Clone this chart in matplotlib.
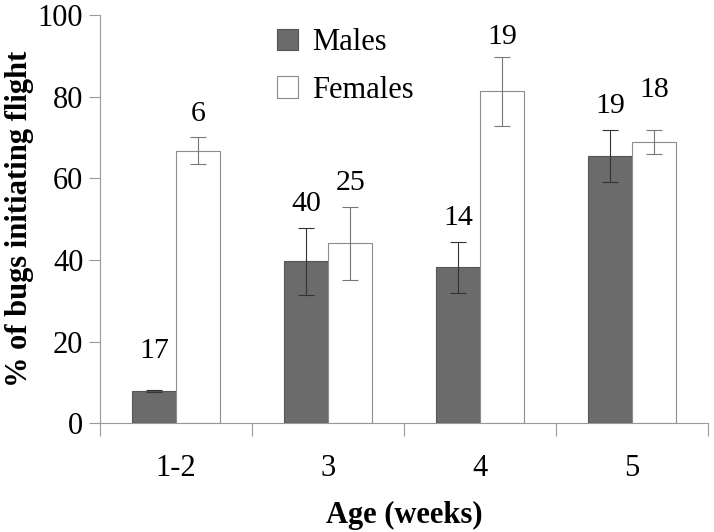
import numpy as np
import matplotlib
matplotlib.use('Agg')
import matplotlib.pyplot as plt

# values
ages = ['1-2', '3', '4', '5']
males = [7.9, 39.7, 38.2, 65.4]
males_err = [0.2, 8.2, 6.2, 6.4]
females = [66.8, 44.1, 81.3, 68.9]
females_err = [3.4, 8.9, 8.4, 3.0]
males_n = [17, 40, 14, 19]
females_n = [6, 25, 19, 18]

plt.rcParams['font.family'] = ['Liberation Serif', 'DejaVu Serif']

fig = plt.figure(figsize=(7.14, 5.32), dpi=100)
ax = fig.add_axes([0.140, 0.2043, 0.852, 0.7675])

x = np.arange(len(ages))
w = 0.29

ax.bar(x - w / 2, males, w, color='#6b6b6b', edgecolor='#555555', linewidth=0.8,
       label='Males', zorder=2)
ax.bar(x + w / 2, females, w, color='white', edgecolor='#8c8c8c', linewidth=0.8,
       label='Females', zorder=2)
ax.errorbar(x - w / 2, males, yerr=males_err, fmt='none', ecolor='#333333',
            elinewidth=0.8, capsize=5.5, capthick=0.8, zorder=3)
ax.errorbar(x + w / 2, females, yerr=females_err, fmt='none', ecolor='#777777',
            elinewidth=0.8, capsize=5.5, capthick=0.8, zorder=3)

# sample sizes above the bars (17 and 18 sit a bit higher in the original)
m_pad = [19, 8, 8, 8]
f_pad = [7, 8, 5, 19]
for i in range(len(ages)):
    ax.annotate(str(males_n[i]), (x[i] - w / 2, males[i] + males_err[i]),
                xytext=(0, m_pad[i]), textcoords='offset points',
                ha='center', va='bottom', fontsize=21.5)
    ax.annotate(str(females_n[i]), (x[i] + w / 2, females[i] + females_err[i]),
                xytext=(0, f_pad[i]), textcoords='offset points',
                ha='center', va='bottom', fontsize=21.5)

ax.set_xlim(-0.5, 3.5)
ax.set_ylim(0, 100)
ax.set_yticks([0, 20, 40, 60, 80, 100])
ax.set_xticks(x)
ax.set_xticklabels(ages)
ax.set_xticks(np.arange(-0.5, 4.0, 1.0), minor=True)
ax.tick_params(axis='x', which='major', length=0, pad=22, labelsize=22)
ax.tick_params(axis='x', which='minor', length=9, color='#999999', width=0.8)
ax.tick_params(axis='y', length=8, color='#999999', width=0.8, labelsize=22, pad=4)

for s in ['top', 'right']:
    ax.spines[s].set_visible(False)
for s in ['left', 'bottom']:
    ax.spines[s].set_color('#999999')
    ax.spines[s].set_linewidth(0.8)

ax.set_xlabel('Age (weeks)', fontsize=22, fontweight='bold', labelpad=13)
ax.set_ylabel('% of bugs initiating flight', fontsize=22, fontweight='bold', labelpad=3)

ax.legend(loc='upper left', bbox_to_anchor=(0.245, 1.035), frameon=False, fontsize=22,
          handlelength=0.7, handleheight=0.7, handletextpad=0.45, labelspacing=0.6)

fig.savefig('out.png', dpi=100)
